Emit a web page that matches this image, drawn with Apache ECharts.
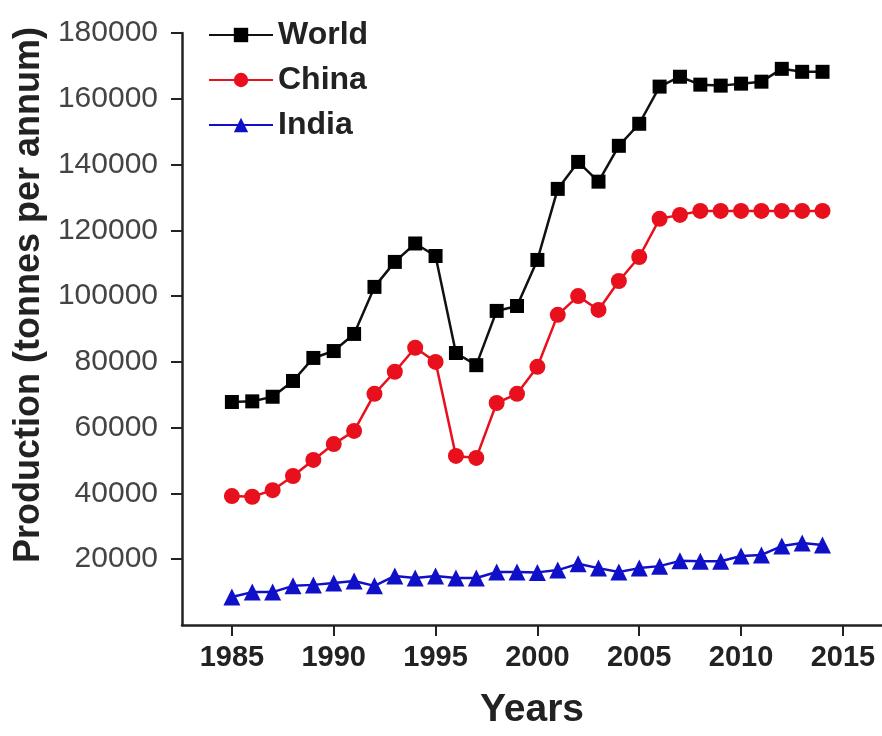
<!DOCTYPE html>
<html>
<head>
<meta charset="utf-8">
<script src="https://cdn.jsdelivr.net/npm/echarts@6/dist/echarts.min.js"></script>
<style>
  html, body {margin: 0; padding: 0; background: #fff;}
  #chartBox {width: 882px; height: 736px;}
</style>
</head>
<body>
<div id="chartBox"></div>
<script>
// 年份
let years = [1985, 1986, 1987, 1988, 1989, 1990, 1991, 1992, 1993, 1994,
    1995, 1996, 1997, 1998, 1999, 2000, 2001, 2002, 2003, 2004,
    2005, 2006, 2007, 2008, 2009, 2010, 2011, 2012, 2013, 2014];
// 产量 (tonnes per annum)
let world = [67800, 68000, 69400, 74200, 81200, 83300, 88500, 102800, 110400, 116000,
    112200, 82700, 79000, 95500, 97000, 111000, 132600, 140800, 134800, 145700,
    152400, 163700, 166700, 164300, 164000, 164600, 165200, 169100, 168200, 168200];
let china = [39200, 39000, 41000, 45300, 50200, 55000, 59000, 70300, 77000, 84300,
    80000, 51400, 50800, 67500, 70300, 78500, 94300, 100000, 95800, 104600,
    111900, 123500, 124700, 125900, 125900, 125900, 125900, 125900, 125900, 125900];
let india = [8500, 10000, 10000, 11900, 12200, 12800, 13400, 11900, 14900, 14300,
    14900, 14300, 14300, 16100, 16100, 16000, 16700, 18600, 17300, 16100,
    17300, 17900, 19500, 19400, 19400, 21000, 21300, 24000, 24900, 24300];
let xTicks = [1985, 1990, 1995, 2000, 2005, 2010, 2015];

const pair = arr => years.map((y, i) => [y, arr[i]]);

let chart = echarts.init(document.getElementById('chartBox'));
chart.setOption({
    animation: false,
    backgroundColor: '#fff',
    grid: {left: 182, right: 0, top: 33, bottom: 111},
    legend: {
        orient: 'vertical',
        left: 203,
        top: 14,
        itemWidth: 64,
        itemHeight: 18,
        itemGap: 13,
        textStyle: {fontFamily: 'Liberation Sans', fontSize: 32, fontWeight: 'bold', color: '#222'},
        data: ['World', 'China', 'India']
    },
    xAxis: {
        type: 'value',
        min: 1982.55,
        max: 2016.92,
        name: 'Years',
        nameLocation: 'middle',
        nameGap: 66,
        nameTextStyle: {fontFamily: 'Liberation Sans', fontSize: 39, fontWeight: 'bold', color: '#222'},
        axisLine: {lineStyle: {color: '#222', width: 2.5}},
        axisTick: {show: true, length: 11, lineStyle: {color: '#222', width: 2}, customValues: xTicks},
        axisLabel: {
            customValues: xTicks,
            formatter: v => String(v),
            margin: 18,
            fontFamily: 'Liberation Sans', fontSize: 29, fontWeight: 'bold', color: '#222'
        },
        splitLine: {show: false}
    },
    yAxis: {
        type: 'value',
        min: 0,
        max: 180000,
        interval: 20000,
        name: 'Production (tonnes per annum)',
        nameLocation: 'middle',
        nameGap: 132,
        nameTextStyle: {
            fontFamily: 'Liberation Sans', fontSize: 36, fontWeight: 'bold', color: '#222',
            padding: [0, 0, 0, 68]
        },
        axisLine: {show: true, lineStyle: {color: '#222', width: 2.5}},
        axisTick: {show: true, length: 11, lineStyle: {color: '#222', width: 2}},
        axisLabel: {
            showMinLabel: false,
            formatter: v => String(v),
            margin: 24,
            fontFamily: 'Liberation Sans', fontSize: 30, color: '#444'
        },
        splitLine: {show: false}
    },
    series: [
        {
            name: 'World', type: 'line', data: pair(world),
            symbol: 'rect', symbolSize: 14,
            itemStyle: {color: '#000'},
            lineStyle: {color: '#111', width: 2.5}
        },
        {
            name: 'China', type: 'line', data: pair(china),
            symbol: 'circle', symbolSize: 16,
            itemStyle: {color: '#e8101c'},
            lineStyle: {color: '#e8101c', width: 2.5}
        },
        {
            name: 'India', type: 'line', data: pair(india),
            symbol: 'triangle', symbolSize: 17,
            itemStyle: {color: '#1010c8'},
            lineStyle: {color: '#1010c8', width: 2.5}
        }
    ]
});
</script>
</body>
</html>
